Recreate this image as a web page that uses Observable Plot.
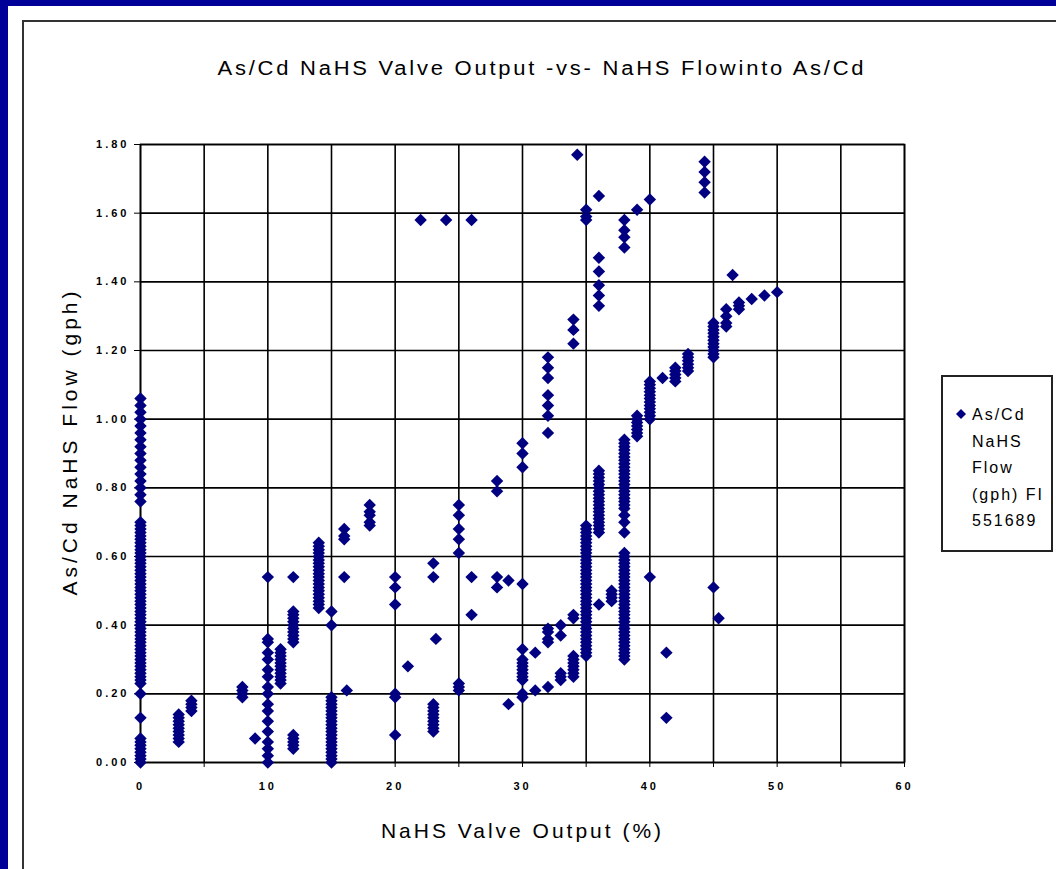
<!DOCTYPE html>
<html>
<head>
<meta charset="utf-8">
<script src="https://cdn.jsdelivr.net/npm/d3@7"></script>
<script src="https://cdn.jsdelivr.net/npm/@observablehq/plot@0.6"></script>
<style>
html, body { margin: 0; padding: 0; }
body { width: 1056px; height: 869px; background: #000099; position: relative; overflow: hidden;
       font-family: "Liberation Sans", Arial, sans-serif; }
#panel { position: absolute; left: 8px; top: 6px; width: 1100px; height: 900px; background: #fff; }
#frame { position: absolute; left: 22px; top: 20px; width: 1100px; height: 900px; border: 2px solid #333; box-sizing: border-box; }
#title { position: absolute; top: 57px; left: 0; width: 1084px; text-align: center; font-size: 20px; letter-spacing: 2.5px; color: #000; }
#title span { display: inline-block; transform: scaleX(1.1); }
#chart { position: absolute; left: 0; top: 0; }
#legend { position: absolute; left: 941px; top: 375px; width: 112px; height: 177px; border: 2px solid #222; box-sizing: border-box; background: #fff; }
#legend .sw { position: absolute; left: 13px; top: 32px; }
#legend .txt { position: absolute; left: 29px; top: 25px; font-size: 16px; line-height: 26.5px; color: #000; letter-spacing: 2px; }
#chart g[aria-label="y-axis tick label"] text, #chart g[aria-label="x-axis tick label"] text { letter-spacing: 3px; }
#chart g[aria-label="x-axis label"] text { font-size: 21px; font-weight: normal; letter-spacing: 3px; }
</style>
</head>
<body>
<div id="panel"></div>
<div id="frame"></div>
<div id="title"><span>As/Cd NaHS Valve Output -vs- NaHS Flowinto As/Cd</span></div>
<div id="chart"></div>
<div id="legend">
  <svg class="sw" width="10" height="10"><path d="M5,0 L10,5 L5,10 L0,5 Z" fill="#000080"/></svg>
  <div class="txt">As/Cd<br>NaHS<br>Flow<br>(gph) FI<br>551689</div>
</div>
<script>
// Axis ticks and titles
const xTicks = [0, 5, 10, 15, 20, 25, 30, 35, 40, 45, 50, 55, 60];
const xLabelled = [0, 10, 20, 30, 40, 50, 60];
const yTicks = [0, 0.2, 0.4, 0.6, 0.8, 1.0, 1.2, 1.4, 1.6, 1.8];
const xTitle = "NaHS Valve Output (%)";
const yTitle = ["As/Cd NaHS Flow (gph)"];

// Readings: [NaHS valve output (%), [As/Cd NaHS flow (gph) readings]]
const closedValve = [
  [0, [1.06, 1.04, 1.02, 1.00, 0.98, 0.96, 0.94, 0.92, 0.90, 0.88, 0.86, 0.84, 0.82, 0.80, 0.78, 0.76,
       0.70, 0.69, 0.68, 0.67, 0.66, 0.65, 0.64, 0.63, 0.62, 0.61, 0.60, 0.59, 0.58, 0.57, 0.56, 0.55,
       0.54, 0.53, 0.52, 0.51, 0.50, 0.49, 0.48, 0.47, 0.46, 0.45, 0.44, 0.43, 0.42, 0.41, 0.40, 0.39,
       0.38, 0.37, 0.36, 0.35, 0.34, 0.33, 0.32, 0.31, 0.30, 0.29, 0.28, 0.27, 0.26, 0.25, 0.24, 0.23,
       0.20, 0.13, 0.07, 0.06, 0.05, 0.04, 0.03, 0.02, 0.01, 0.00]]
];
const lowOutput = [
  [3, [0.14, 0.13, 0.12, 0.11, 0.10, 0.09, 0.08, 0.07, 0.06]],
  [4, [0.18, 0.17, 0.16, 0.15]],
  [8, [0.22, 0.21, 0.20, 0.19]],
  [9, [0.07]],
  [10, [0.54, 0.36, 0.35, 0.32, 0.30, 0.27, 0.25, 0.22, 0.20, 0.17, 0.15, 0.12, 0.09, 0.06, 0.04, 0.02, 0.00]],
  [11, [0.33, 0.32, 0.31, 0.30, 0.29, 0.28, 0.27, 0.26, 0.25, 0.24, 0.23]],
  [12, [0.54, 0.44, 0.43, 0.42, 0.41, 0.40, 0.39, 0.38, 0.37, 0.36, 0.35, 0.08, 0.07, 0.06, 0.05, 0.04]],
  [14, [0.64, 0.63, 0.62, 0.61, 0.60, 0.59, 0.58, 0.57, 0.56, 0.55, 0.54, 0.53, 0.52, 0.51, 0.50,
        0.49, 0.48, 0.47, 0.46, 0.45]],
  [15, [0.44, 0.40, 0.19, 0.18, 0.17, 0.16, 0.15, 0.14, 0.13, 0.12, 0.11, 0.10, 0.09, 0.08, 0.07,
        0.06, 0.05, 0.04, 0.03, 0.02, 0.01, 0.00]],
  [16, [0.68, 0.66, 0.65, 0.54]],
  [16.2, [0.21]],
  [18, [0.75, 0.73, 0.72, 0.70, 0.69]]
];
const midOutput = [
  [20, [0.54, 0.51, 0.46, 0.20, 0.19, 0.08]],
  [21, [0.28]],
  [22, [1.58]],
  [23, [0.58, 0.54, 0.17, 0.16, 0.15, 0.14, 0.13, 0.12, 0.11, 0.10, 0.09]],
  [23.2, [0.36]],
  [24, [1.58]],
  [25, [0.75, 0.72, 0.68, 0.65, 0.61, 0.23, 0.22, 0.21]],
  [26, [1.58, 0.54, 0.43]],
  [28, [0.82, 0.79, 0.54, 0.51]],
  [28.9, [0.53, 0.17]]
];
const highOutput = [
  [30, [0.93, 0.90, 0.86, 0.52, 0.33, 0.30, 0.29, 0.28, 0.27, 0.26, 0.25, 0.24, 0.20, 0.19]],
  [31, [0.32, 0.21]],
  [32, [1.18, 1.15, 1.12, 1.07, 1.04, 1.01, 0.96, 0.39, 0.38, 0.36, 0.35, 0.22]],
  [33, [0.40, 0.37, 0.26, 0.25, 0.24]],
  [34, [1.29, 1.26, 1.22, 0.43, 0.42, 0.31, 0.30, 0.29, 0.28, 0.27, 0.26, 0.25]],
  [34.3, [1.77]],
  [35, [1.61, 1.59, 1.58,
        0.69, 0.68, 0.67, 0.66, 0.65, 0.64, 0.63, 0.62, 0.61, 0.60, 0.59, 0.58, 0.57, 0.56, 0.55,
        0.54, 0.53, 0.52, 0.51, 0.50, 0.49, 0.48, 0.47, 0.46, 0.45, 0.44, 0.43, 0.42, 0.41, 0.40,
        0.39, 0.38, 0.37, 0.36, 0.35, 0.34, 0.33, 0.32, 0.31]],
  [36, [1.65, 1.47, 1.43, 1.39, 1.36, 1.33,
        0.85, 0.84, 0.83, 0.82, 0.81, 0.80, 0.79, 0.78, 0.77, 0.76, 0.75, 0.74, 0.73, 0.72, 0.71,
        0.70, 0.69, 0.68, 0.67, 0.46]],
  [37, [0.50, 0.49, 0.48, 0.47]],
  [38, [1.58, 1.55, 1.53, 1.50,
        0.94, 0.93, 0.92, 0.91, 0.90, 0.89, 0.88, 0.87, 0.86, 0.85, 0.84, 0.83, 0.82, 0.81, 0.80,
        0.79, 0.78, 0.77, 0.76, 0.75, 0.74, 0.72, 0.70, 0.67,
        0.61, 0.60, 0.59, 0.58, 0.57, 0.56, 0.55, 0.54, 0.53, 0.52, 0.51, 0.50, 0.49, 0.48, 0.47,
        0.46, 0.45, 0.44, 0.43, 0.42, 0.41, 0.40, 0.39, 0.38, 0.37, 0.36, 0.35, 0.34, 0.33, 0.32,
        0.31, 0.30]],
  [39, [1.61, 1.01, 1.00, 0.99, 0.98, 0.97, 0.96, 0.95]]
];
const topOutput = [
  [40, [1.64, 1.11, 1.10, 1.09, 1.08, 1.07, 1.06, 1.05, 1.04, 1.03, 1.02, 1.01, 1.00, 0.54]],
  [41, [1.12]],
  [41.3, [0.32, 0.13]],
  [42, [1.15, 1.14, 1.13, 1.12, 1.11]],
  [43, [1.19, 1.18, 1.17, 1.16, 1.15, 1.14]],
  [44.3, [1.75, 1.72, 1.69, 1.66]],
  [45, [1.28, 1.27, 1.26, 1.25, 1.24, 1.23, 1.22, 1.21, 1.20, 1.19, 1.18, 0.51]],
  [45.4, [0.42]],
  [46, [1.32, 1.30, 1.28, 1.27]],
  [46.5, [1.42]],
  [47, [1.34, 1.33, 1.32]],
  [48, [1.35]],
  [49, [1.36]],
  [50, [1.37]]
];

const readings = [closedValve, lowOutput, midOutput, highOutput, topOutput]
  .flat()
  .flatMap(([output, flows]) => flows.map(flow => ({output, flow})));

const chart = Plot.plot({
  width: 1056,
  height: 869,
  marginLeft: 140,
  marginRight: 152,
  marginTop: 144,
  marginBottom: 107,
  style: {fontFamily: "'Liberation Sans', Arial, sans-serif", fontSize: "11px", fontWeight: "bold", background: "transparent", color: "#000"},
  x: {domain: [0, 60]},
  y: {domain: [0, 1.8]},
  marks: [
    Plot.gridX(xTicks, {stroke: "#000", strokeOpacity: 1, strokeWidth: 1.6}),
    Plot.gridY(yTicks, {stroke: "#000", strokeOpacity: 1, strokeWidth: 1.6}),
    Plot.frame({stroke: "#000", strokeWidth: 1.6}),
    Plot.axisX(xTicks, {
      tickSize: 5, tickPadding: 15,
      tickFormat: d => xLabelled.includes(d) ? String(d) : "",
      label: xTitle, labelAnchor: "center", labelOffset: 75, labelArrow: false
    }),
    Plot.axisY(yTicks, {
      tickSize: 6, tickPadding: 5,
      tickFormat: d => d.toFixed(2),
      label: null
    }),
    Plot.text(yTitle, {
      text: d => d, frameAnchor: "left", textAnchor: "middle", lineAnchor: "middle",
      rotate: -90, dx: -70, dy: -12,
      fontSize: 21, fontWeight: "normal", fill: "#000"
    }),
    Plot.dot(readings, {x: "output", y: "flow", symbol: "diamond2", r: 5.6, fill: "#000080", stroke: "none"})
  ]
});
chart.querySelectorAll("text").forEach(t => {
  if (t.textContent === yTitle[0]) t.style.letterSpacing = "4px";
});
document.getElementById("chart").appendChild(chart);
</script>
</body>
</html>
